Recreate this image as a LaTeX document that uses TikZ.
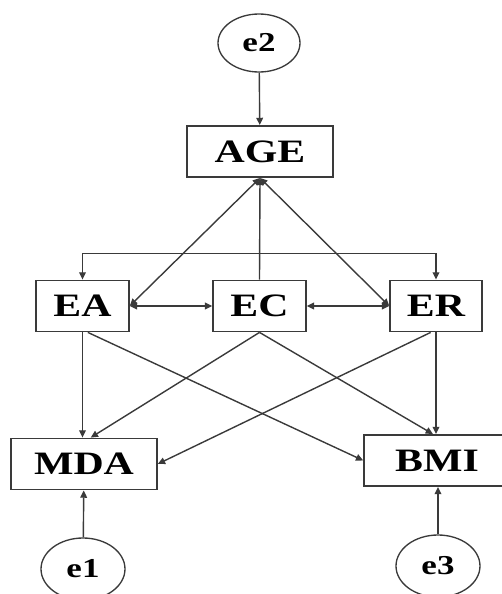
\documentclass[tikz,border=0pt]{standalone}
\usepackage{fontspec}
\setmainfont{Liberation Serif}
\usetikzlibrary{arrows.meta,shapes.geometric}
\definecolor{ink}{HTML}{3A3A3A}
% widened lettering used throughout the model
\newcommand\stretchx[1]{\scalebox{1.28}[1]{#1}}
\begin{document}
\begin{tikzpicture}[x=0.75pt,y=-0.75pt,
  var/.style={draw=ink,line width=1.1pt,rectangle,inner sep=0pt,
    minimum height=38.5pt,font=\fontsize{24.5}{28}\selectfont\bfseries},
  err/.style={draw=ink,line width=1pt,ellipse,inner sep=0pt,
    font=\fontsize{20.5}{24}\selectfont\bfseries},
  reg/.style={draw=ink,line width=1.05pt,-{Triangle[length=5.5pt,width=5pt]}},
  cov/.style={draw=ink,line width=1.05pt,
    {Triangle[length=5.5pt,width=5pt]}-{Triangle[length=5.5pt,width=5pt]}}]
\useasboundingbox (0,0) rectangle (502,594);

% observed variables
\node[var,minimum width=109.5pt] (AGE) at (260,151.5) {\stretchx{AGE}};
\node[var,minimum width=69.75pt] (EA) at (82.5,306) {\stretchx{EA}};
\node[var,minimum width=69.75pt] (EC) at (259.5,306) {\stretchx{EC}};
\node[var,minimum width=69pt] (ER) at (436,306) {\stretchx{ER}};
\node[var,minimum width=109.5pt] (MDA) at (84,464) {\stretchx{MDA}};
\node[var,minimum width=109.5pt] (BMI) at (437,460.5) {\stretchx{BMI}};

% error terms
\node[err,minimum width=61.5pt,minimum height=43.5pt] (e2) at (259,43) {\stretchx{e2}};
\node[err,minimum width=63pt,minimum height=46.5pt] (e1) at (83,569) {\stretchx{e1}};
\node[err,minimum width=63pt,minimum height=46.5pt] (e3) at (438,566) {\stretchx{e3}};

% error paths
\draw[reg] (e2) -- (AGE);
\draw[reg] (e1) -- (MDA);
\draw[reg] (e3.north) -- (BMI.south -| e3.north);

% links with AGE
\draw[cov] (AGE.south) -- (EA.east);
\draw[cov] (AGE.south) -- (ER.west);
\draw[reg] (EC.north) -- (AGE.south);

% covariances among EA, EC, ER
\draw[cov] (EA.east) -- (EC.west);
\draw[cov] (EC.east) -- (ER.west);
\draw[cov] (EA.north) -- ++(0,-26) -| (ER.north);

% paths to MDA and BMI
\draw[reg] (EA.south) -- (MDA.north -| EA.south);
\draw[reg] ([xshift=4pt]EA.south) -- (BMI.west);
\draw[reg] (EC.south) -- ([xshift=5pt]MDA.north);
\draw[reg] (EC.south) -- ([xshift=-3pt]BMI.north);
\draw[reg] ([xshift=-4pt]ER.south) -- (MDA.east);
\draw[reg] (ER.south) -- (BMI.north -| ER.south);
\end{tikzpicture}
\end{document}
